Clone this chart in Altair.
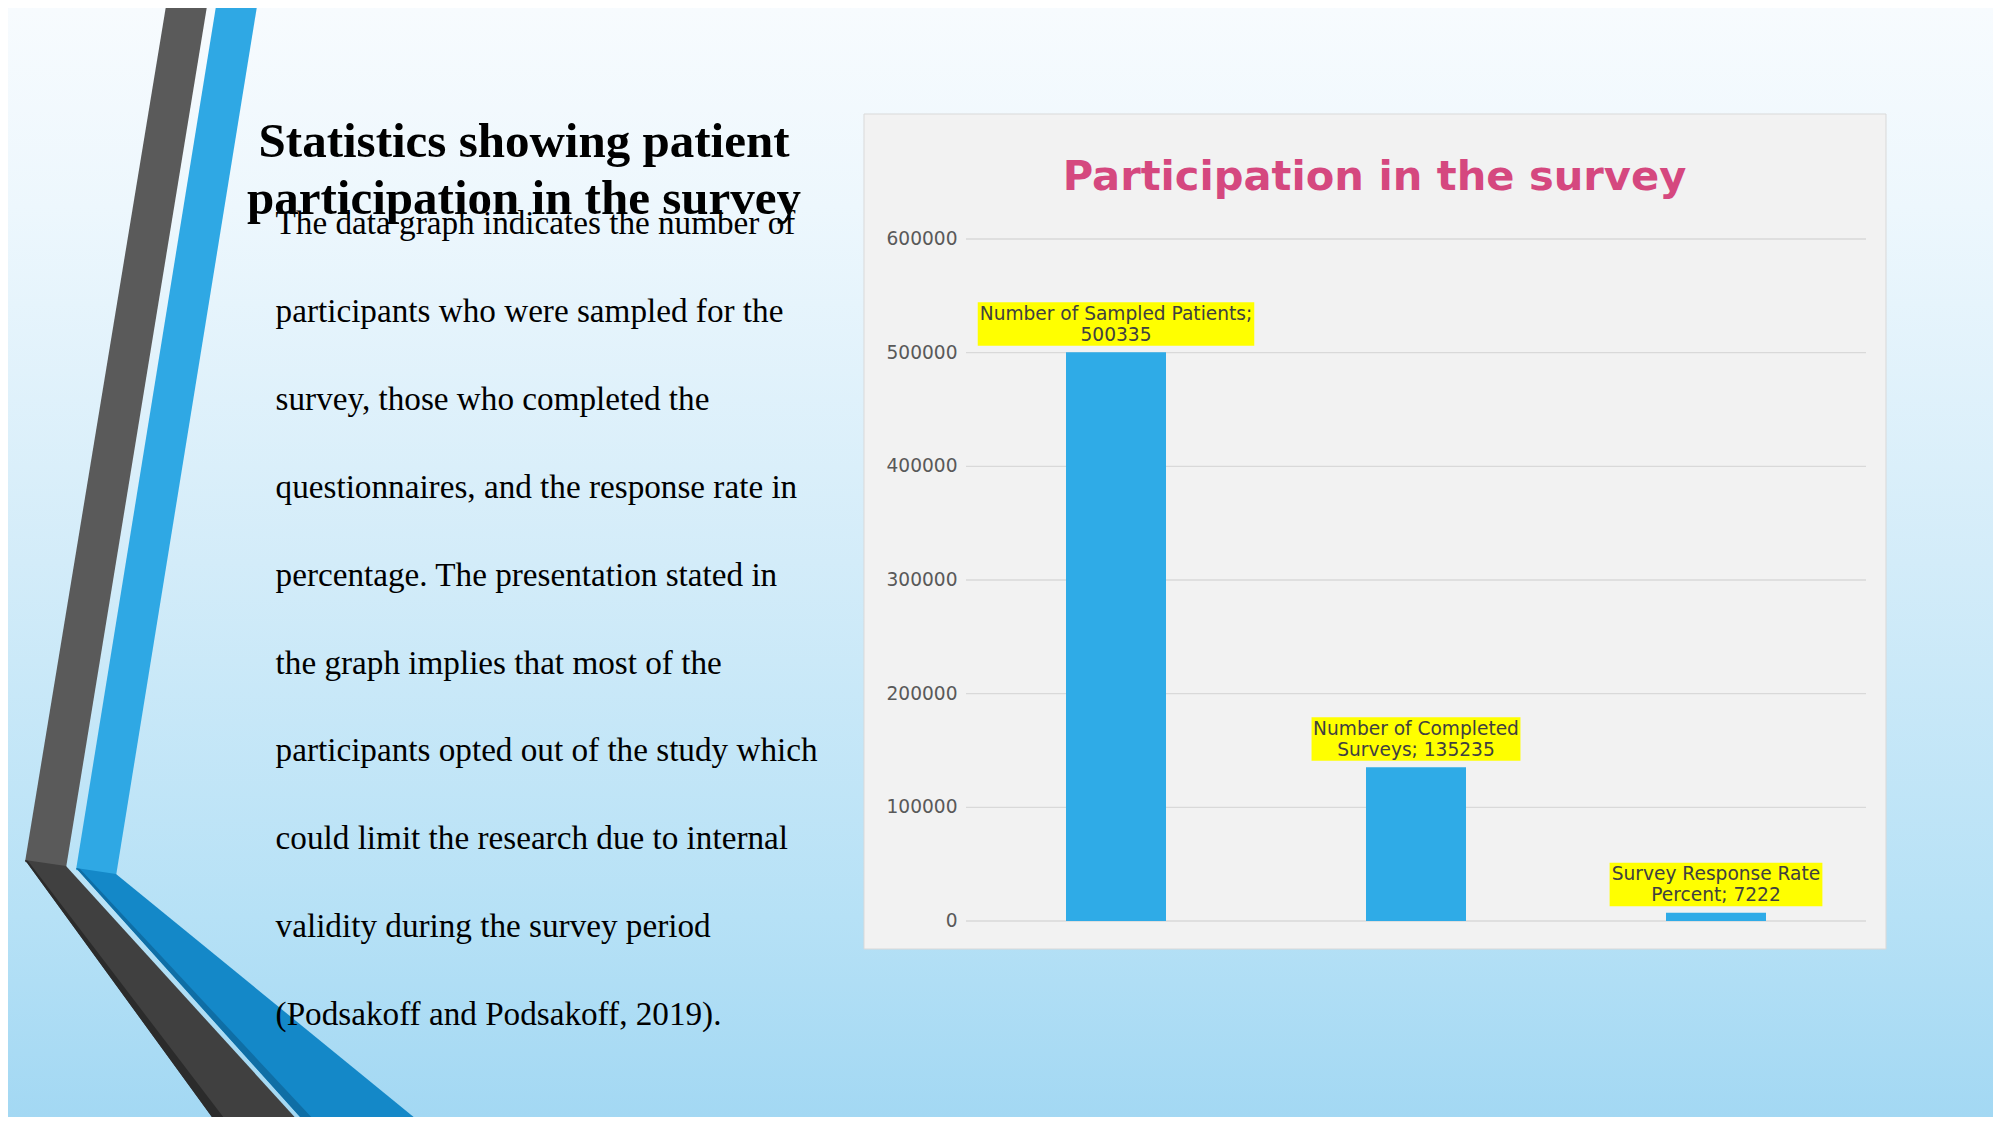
import altair as alt
import pandas as pd

# ---------------- data ----------------
categories = ["Number of Sampled Patients", "Number of Completed Surveys", "Survey Response Rate Percent"]
values = [500335, 135235, 7222]
y_ticks = [0, 100000, 200000, 300000, 400000, 500000, 600000]
chart_title = "Participation in the survey"
slide_title = ["Statistics showing patient", "participation in the survey"]
body_lines = [
    "The data graph indicates the number of",
    "participants who were sampled for the",
    "survey, those who completed the",
    "questionnaires, and the response rate in",
    "percentage. The presentation stated in",
    "the graph implies that most of the",
    "participants opted out of the study which",
    "could limit the research due to internal",
    "validity during the survey period",
    "(Podsakoff and Podsakoff, 2019).",
]

# ---------------- layout helpers ----------------
W, H = 1985, 1109
LABEL_FS = 18.6

# approximate DejaVu Sans advance widths (em) to size the label boxes
DEJAVU = {" ": 0.318, ";": 0.337, "N": 0.748, "u": 0.634, "m": 0.974, "b": 0.635,
          "e": 0.615, "r": 0.411, "o": 0.612, "f": 0.352, "S": 0.635, "a": 0.613,
          "p": 0.635, "l": 0.278, "d": 0.635, "P": 0.603, "t": 0.392, "i": 0.278,
          "n": 0.634, "s": 0.521, "C": 0.698, "v": 0.592, "y": 0.592, "R": 0.695,
          "c": 0.550}
for dch in "0123456789":
    DEJAVU[dch] = 0.636


def text_w(s, fs=LABEL_FS):
    return sum(DEJAVU.get(ch, 0.6) for ch in s) * fs


def wrap(s, maxw=280):
    lines, cur = [], ""
    for w in s.split(" "):
        t = w if not cur else cur + " " + w
        if not cur or text_w(t) <= maxw:
            cur = t
        else:
            lines.append(cur)
            cur = w
    lines.append(cur)
    return lines


rows = []
for c, v in zip(categories, values):
    lines = wrap(f"{c}; {v}")
    rows.append({"category": c, "value": v, "label": "\n".join(lines),
                 "boxw": max(text_w(l) for l in lines) + 3})
df = pd.DataFrame(rows)
ticks_df = pd.DataFrame({"tick": y_ticks, "tick_label": [str(t) for t in y_ticks]})

one = alt.Data(values=[{"k": 0}])

xscale = alt.Scale(domain=categories, range=[958, 1858], paddingInner=0, paddingOuter=0)
yscale = alt.Scale(domain=[y_ticks[0], y_ticks[-1]], range=[913, 231])

# ---------------- slide background ----------------
bg = alt.Chart(one).mark_rect(
    color=alt.LinearGradient(
        gradient="linear", x1=0, x2=0, y1=0, y2=1,
        stops=[alt.GradientStop(offset=0, color="#F7FBFE"),
               alt.GradientStop(offset=0.18, color="#EDF7FD"),
               alt.GradientStop(offset=0.5, color="#D3ECF9"),
               alt.GradientStop(offset=0.82, color="#B6E1F6"),
               alt.GradientStop(offset=1, color="#A3D8F3")])
).encode(x=alt.value(0), x2=alt.value(W), y=alt.value(0), y2=alt.value(H))


def poly(path, color):
    return alt.Chart(one).mark_point(
        shape=path, size=4, filled=True, fill=color, opacity=1, strokeWidth=0
    ).encode(x=alt.value(0), y=alt.value(0))


decor = [
    poly("M160.3,-16L201.3,-16L58,860L17,854Z", "#5A5A5A"),
    poly("M17,852L58,858L303,1127L217,1127Z", "#404040"),
    poly("M17,852L20,853L229,1127L217,1127Z", "#2B2B2B"),
    poly("M210.3,-16L251.3,-16L108,868L68,862Z", "#2FA8E4"),
    poly("M68,860L108,866L427.7,1127L308.3,1127Z", "#1488C8"),
    poly("M68,860L72,861L320,1127L308.3,1127Z", "#0F6EA5"),
]

slide_title_mark = alt.Chart(one).mark_text(
    font="Liberation Serif", fontWeight="bold", fontSize=49, color="#000000",
    align="center", baseline="alphabetic", lineBreak="\n", lineHeight=57
).encode(x=alt.value(516), y=alt.value(149), text=alt.value("\n".join(slide_title)))

body_mark = alt.Chart(one).mark_text(
    font="Liberation Serif", fontSize=33.2, color="#000000",
    align="left", baseline="alphabetic", lineBreak="\n", lineHeight=87.9
).encode(x=alt.value(267.6), y=alt.value(226), text=alt.value("\n".join(body_lines)))

# ---------------- chart panel ----------------
frame = alt.Chart(one).mark_rect(
    fill="#F2F2F2", stroke="#D9D9D9", strokeWidth=1
).encode(x=alt.value(856), x2=alt.value(1878), y=alt.value(106), y2=alt.value(941))

title_mark = alt.Chart(one).mark_text(
    font="DejaVu Sans", fontWeight="bold", fontSize=41.6, color="#D5487F",
    align="center", baseline="alphabetic"
).encode(x=alt.value(1366.5), y=alt.value(181.5), text=alt.value(chart_title))

grid = alt.Chart(ticks_df).mark_rule(color="#D9D9D9", strokeWidth=1.3).encode(
    y=alt.Y("tick:Q", scale=yscale, axis=None),
    x=alt.value(958), x2=alt.value(1858))

tick_text = alt.Chart(ticks_df).mark_text(
    font="DejaVu Sans", fontSize=LABEL_FS, color="#595959", align="right", baseline="middle"
).encode(y=alt.Y("tick:Q", scale=yscale, axis=None), x=alt.value(949.5), text="tick_label:N")

bars = alt.Chart(df).mark_bar(color="#2FABE7", width=alt.RelativeBandSize(1 / 3)).encode(
    x=alt.X("category:N", scale=xscale, axis=None, sort=categories),
    y=alt.Y("value:Q", scale=yscale, axis=None))

boxes = alt.Chart(df).mark_bar(color="#FFFF00", yOffset=-50, y2Offset=-6.5).encode(
    x=alt.X("category:N", scale=xscale, axis=None, sort=categories),
    y=alt.Y("value:Q", scale=yscale, axis=None),
    y2="value:Q",
    size=alt.Size("boxw:Q", scale=None, legend=None))

labels = alt.Chart(df).mark_text(
    font="DejaVu Sans", fontSize=LABEL_FS, color="#404040", align="center",
    baseline="alphabetic", lineBreak="\n", lineHeight=21, dy=-32.3
).encode(
    x=alt.X("category:N", scale=xscale, axis=None, sort=categories),
    y=alt.Y("value:Q", scale=yscale, axis=None),
    text="label:N")

chart = alt.layer(
    bg, *decor, slide_title_mark, body_mark, frame, title_mark, grid, tick_text, bars, boxes, labels
).properties(
    width=W, height=H, autosize=alt.AutoSizeParams(type="none"), padding=0
).configure_view(stroke=None)

chart.save("out.html", embed_options={"renderer": "svg", "actions": False})
